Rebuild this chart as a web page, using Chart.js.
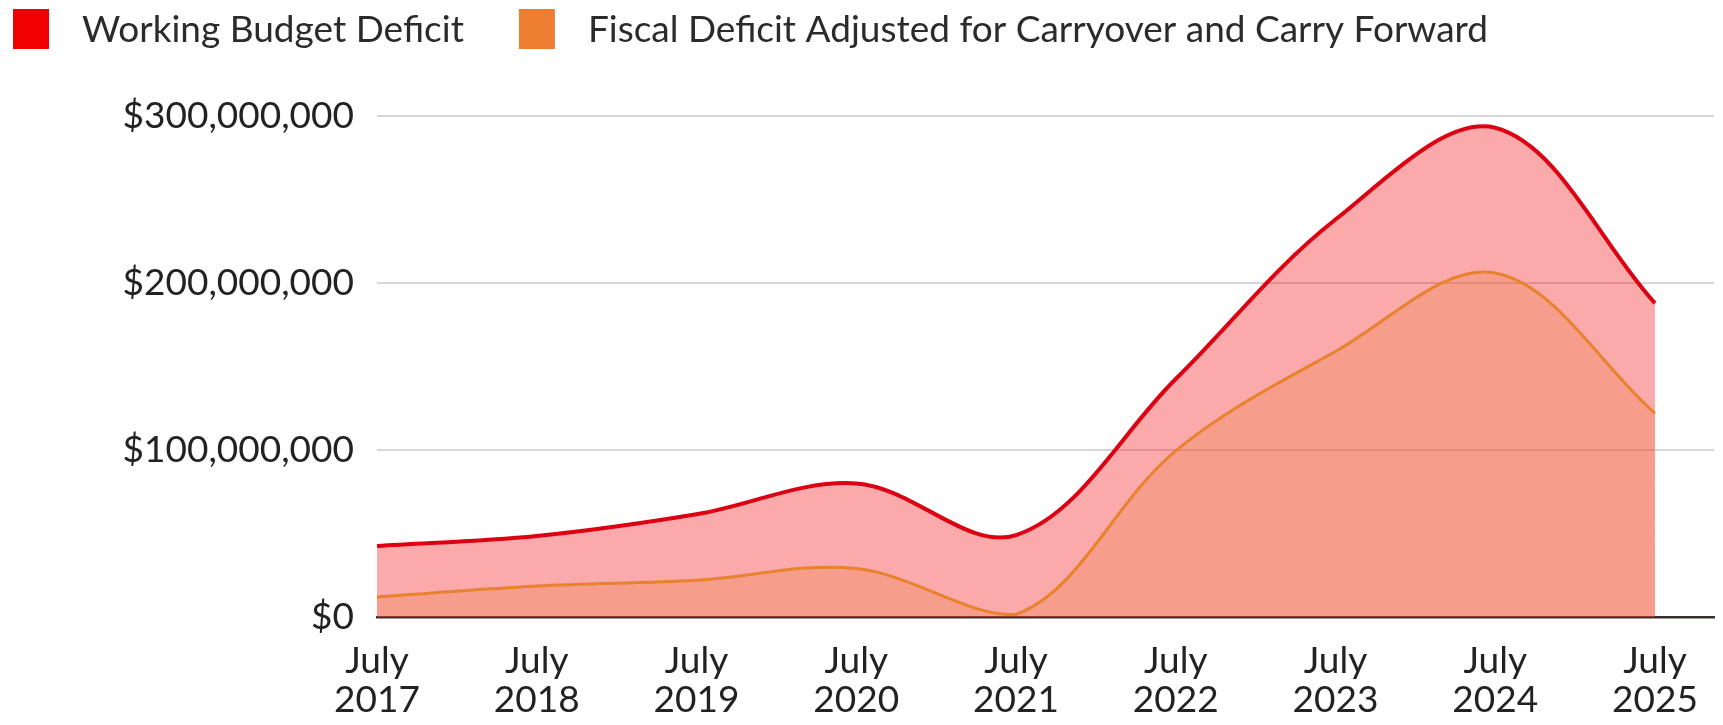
<!DOCTYPE html>
<html>
<head>
<meta charset="utf-8">
<script src="https://cdn.jsdelivr.net/npm/chart.js@4/dist/chart.umd.min.js"></script>
<style>
  html, body { margin: 0; padding: 0; background: #fff; }
  #wrap { width: 1723px; height: 725px; position: relative; }
</style>
</head>
<body>
<div id="wrap"><canvas id="deficitChart"></canvas></div>
<script>
const periods = ['July 2017', 'July 2018', 'July 2019', 'July 2020', 'July 2021',
                 'July 2022', 'July 2023', 'July 2024', 'July 2025'];
const workingDeficit = [42.5e6, 48.5e6, 61.5e6, 80e6, 49e6, 142.5e6, 238e6, 293e6, 188e6];
const fiscalDeficit = [12e6, 18.5e6, 22e6, 29e6, 1.5e6, 99.5e6, 159e6, 206e6, 122e6];
const seriesNames = ['Working Budget Deficit', 'Fiscal Deficit Adjusted for Carryover and Carry Forward'];
const yTicks = [0, 100e6, 200e6, 300e6];

const legendColors = ['#F00000', '#ED7D31'];
const FONT = 'Lato, "Open Sans", sans-serif';
const FONT_SIZE = 37;

// simple legend across the top, left aligned
const topLegend = {
  id: 'topLegend',
  afterDraw(chart) {
    const ctx = chart.ctx;
    ctx.save();
    ctx.font = FONT_SIZE + 'px ' + FONT;
    ctx.textBaseline = 'middle';
    let x = 13;
    chart.data.datasets.forEach((ds, i) => {
      ctx.fillStyle = legendColors[i];
      ctx.fillRect(x, 9, 36, 40);
      ctx.fillStyle = '#2b2b2b';
      ctx.fillText(ds.label, x + 69, 30);
      x += 69 + ctx.measureText(ds.label).width + 55;
    });
    ctx.restore();
  }
};

const toPoints = arr => arr.map((v, i) => ({ x: i, y: v }));

new Chart(document.getElementById('deficitChart'), {
  type: 'line',
  data: {
    datasets: [
      {
        label: seriesNames[0],
        data: toPoints(workingDeficit),
        borderColor: '#DC0012',
        borderWidth: 4,
        backgroundColor: 'rgba(240, 20, 20, 0.36)',
        fill: 'origin',
        tension: 0.35,
        pointRadius: 0,
        order: 2
      },
      {
        label: seriesNames[1],
        data: toPoints(fiscalDeficit),
        borderColor: '#E8822F',
        borderWidth: 3,
        backgroundColor: 'rgba(237, 125, 49, 0.25)',
        fill: 'origin',
        tension: 0.35,
        pointRadius: 0,
        order: 1
      }
    ]
  },
  options: {
    responsive: true,
    maintainAspectRatio: false,
    animation: false,
    layout: { padding: { top: 116, right: 3, left: 0, bottom: 0 } },
    plugins: {
      legend: { display: false },
      tooltip: { enabled: false }
    },
    scales: {
      x: {
        type: 'linear',
        min: 0,
        max: 8.37,
        z: 1,
        afterFit: axis => { axis.height = 108; },
        grid: { display: false, drawTicks: false },
        border: { display: true, color: '#3a2f2f', width: 2.5 },
        ticks: {
          stepSize: 1,
          includeBounds: false,
          autoSkip: false,
          maxRotation: 0,
          padding: 25,
          color: '#222',
          font: { family: FONT, size: FONT_SIZE, lineHeight: 1.05 },
          callback: v => Number.isInteger(v) && periods[v] ? periods[v].split(' ') : ''
        }
      },
      y: {
        min: 0,
        max: 300e6,
        afterFit: axis => { axis.width = 377; },
        afterBuildTicks: axis => { axis.ticks = yTicks.map(v => ({ value: v })); },
        grid: { color: '#d6d6d6', lineWidth: 2, drawTicks: false },
        border: { display: false },
        ticks: {
          padding: 23,
          color: '#222',
          font: { family: FONT, size: FONT_SIZE },
          callback: v => '$' + v.toLocaleString('en-US')
        }
      }
    }
  },
  plugins: [topLegend]
});
</script>
</body>
</html>
